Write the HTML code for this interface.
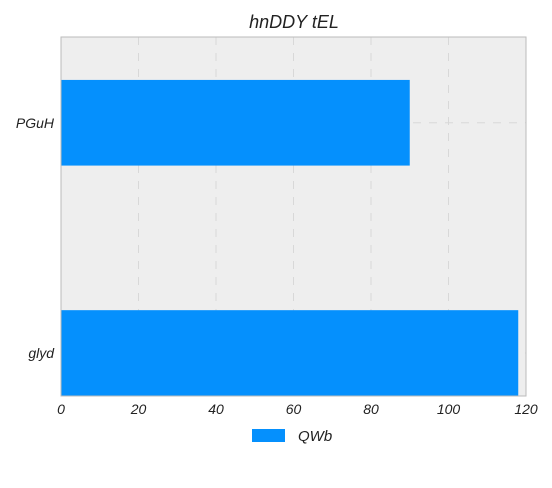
<!DOCTYPE html>
<html><head><meta charset="utf-8"><style>
body{margin:0;background:#fff;}
svg text{font-family:"Liberation Sans",sans-serif;font-style:italic;fill:#222;}
</style></head><body>
<svg id="chart" width="552" height="483">
<text x="294" y="28" text-anchor="middle" font-size="18">hnDDY tEL</text>
<rect x="61" y="37" width="465" height="359" fill="#eeeeee"/>
<g id="grid"></g>
<g id="bars"></g>
<rect x="61" y="37" width="465" height="359" fill="none" stroke="#bbbbbb"/>
<g id="xticks"></g>
<g id="yticks"></g>
<g>
<rect x="252" y="429" width="33" height="13" fill="#0590fd"/>
<text x="298" y="441" font-size="15">QWb</text>
</g>
</svg>
<script>
const categories = ["PGuH", "glyd"];
const values = [90, 118];
const xTicks = [0, 20, 40, 60, 80, 100, 120];
const ns = "http://www.w3.org/2000/svg";
const X0 = 61, X1 = 526, XMAX = 120;
function xs(v){ return X0 + v / XMAX * (X1 - X0); }
function yc(i){ return 122.75 + i * 230.25; }
const BH = 0.372 * 230.25;
function mk(tag, attrs, parent){ const e = document.createElementNS(ns, tag); for (const k in attrs) e.setAttribute(k, attrs[k]); document.getElementById(parent).appendChild(e); return e; }
xTicks.forEach(t => {
  if (t > 0 && t < XMAX) {
    const g = mk("line", {x1: xs(t), x2: xs(t), y1: 37, y2: 396, stroke: "#d8d8d8", "stroke-dasharray": "8,8"}, "grid");
    
    
  }
  const tx = mk("text", {x: xs(t), y: 414, "text-anchor": "middle", "font-size": "14"}, "xticks");
  tx.textContent = t;
  
  
});
categories.forEach((c, i) => {
  const g = mk("line", {x1: 61, x2: 526, y1: yc(i), y2: yc(i), stroke: "#d8d8d8", "stroke-dasharray": "8,8"}, "grid");
  
  
  const b = mk("rect", {x: xs(0), y: yc(i) - BH / 2, width: xs(values[i]) - xs(0), height: BH, fill: "#0590fd"}, "bars");
  
  
  const t = mk("text", {x: 54, y: yc(i) + 5, "text-anchor": "end", "font-size": "14"}, "yticks");
  t.textContent = c;
  
  
});
</script>
</body></html>
